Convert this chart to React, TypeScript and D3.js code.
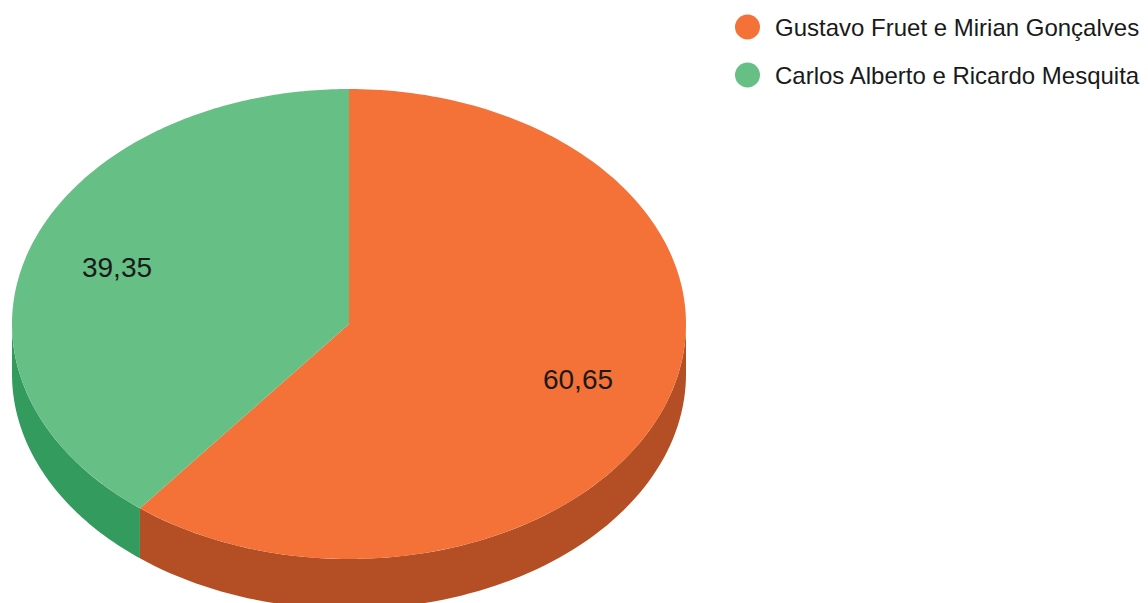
import React from "react";
import * as d3 from "d3";

const categories = ["Gustavo Fruet e Mirian Gonçalves", "Carlos Alberto e Ricardo Mesquita"];
const values = [60.65, 39.35];
const labels = ["60,65", "39,35"];
const topColors = ["#F47238", "#66C086"];
const sideColors = ["#B44F25", "#349B5F"];

const W = 1148;
const H = 603;
const cx = 349;
const cy = 324;
const rx = 337;
const ry = 235;
const depth = 50;

function pt(t: number, dy = 0): [number, number] {
  return [cx + rx * Math.sin(t), cy - ry * Math.cos(t) + dy];
}

export default function App() {
  const pie = d3.pie<number>().sort(null).value((d) => d);
  const arcs = pie(values);
  const line = d3.line<[number, number]>();

  const sides = arcs.map((a, i) => {
    const s = Math.max(a.startAngle, Math.PI / 2);
    const e = Math.min(a.endAngle, (3 * Math.PI) / 2);
    if (e <= s) return null;
    const n = 80;
    const top = d3.range(n + 1).map((k) => pt(s + ((e - s) * k) / n));
    const bot = d3.range(n + 1).map((k) => pt(e - ((e - s) * k) / n, depth));
    return <path key={"s" + i} d={(line([...top, ...bot]) || "") + "Z"} fill={sideColors[i]} />;
  });

  const tops = arcs.map((a, i) => {
    const n = 200;
    const pts: [number, number][] = [[cx, cy]];
    d3.range(n + 1).forEach((k) => pts.push(pt(a.startAngle + ((a.endAngle - a.startAngle) * k) / n)));
    return <path key={"t" + i} d={(line(pts) || "") + "Z"} fill={topColors[i]} />;
  });

  const labelPos: [number, number][] = [
    [578, 389],
    [117, 277],
  ];

  return (
    <svg width={W} height={H} style={{ position: "absolute", left: 0, top: 0 }}>
      <rect width={W} height={H} fill="#fff" />
      {sides}
      {tops}
      {labels.map((l, i) => (
        <text
          key={"l" + i}
          x={labelPos[i][0]}
          y={labelPos[i][1]}
          textAnchor="middle"
          fontFamily="'Liberation Sans', Arial, sans-serif"
          fontSize={28}
          fill="#1a1a1a"
        >
          {l}
        </text>
      ))}
      {categories.map((c, i) => (
        <g key={"g" + i} transform={`translate(0,${27 + i * 48})`}>
          <circle cx={747.5} cy={0} r={12.5} fill={topColors[i]} />
          <text x={775} y={9} fontFamily="'Liberation Sans', Arial, sans-serif" fontSize={24} fill="#1a1a1a">
            {c}
          </text>
        </g>
      ))}
    </svg>
  );
}
